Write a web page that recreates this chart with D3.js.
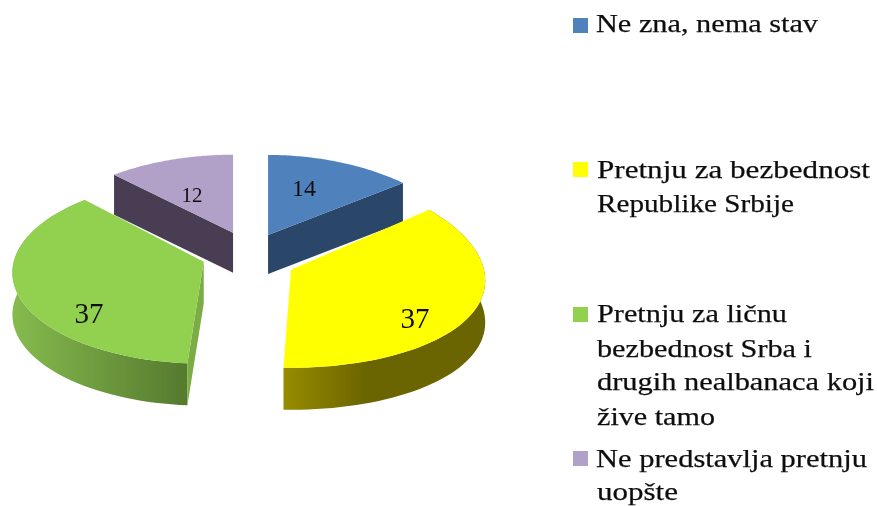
<!DOCTYPE html>
<html><head><meta charset="utf-8">
<script src="https://cdnjs.cloudflare.com/ajax/libs/d3/7.8.5/d3.min.js"></script>
<style>html,body{margin:0;padding:0;background:#fff}svg{display:block}text{font-family:"Liberation Serif",serif;fill:#111}</style>
</head><body><svg id="c" width="877" height="506"></svg>
<script>
const categories=["Ne zna, nema stav","Pretnju za bezbednost Republike Srbije","Pretnju za ličnu bezbednost Srba i drugih nealbanaca koji žive tamo","Ne predstavlja pretnju uopšte"];
const values=[14,37,37,12];
const legendLines=[["Ne zna, nema stav"],["Pretnju za bezbednost","Republike Srbije"],["Pretnju za ličnu","bezbednost Srba i","drugih nealbanaca koji","žive tamo"],["Ne predstavlja pretnju","uopšte"]];
const topColors=["#4f81bd","#ffff00","#92d050","#b1a0c7"];
const radialSide=["#2a4669",null,"#7cad45","#483e52"];
const arcGrad=[null,[[283,"#978c00"],[365,"#6b6500"],[484,"#6b6500"]],[[12,"#86bb4e"],[187,"#557a2e"]],null];
// per-slice drawing geometry (perspective of the original 3-D pie)
const sliceGeom=[
  {nx:-1.5,ny:.5,rx:192,kx:.139,ry:84.4,ky:.052,depth:39,trimS:0,trimE:0},
  {nx:0,ny:0,rx:193,kx:.114,ry:95.6,ky:.025,depth:42,trimS:0,trimE:.028},
  {nx:-3,ny:-5,rx:190,kx:.12,ry:92,ky:.107,depth:42,trimS:.014,trimE:0},
  {nx:0,ny:-1,rx:192,kx:.13,ry:84,ky:.07,depth:40,trimS:0,trimE:0}
];
const labelLayout=[[304,196,24],[415,328,29],[89,323,29],[192,202,21]];
const legendLayout=[
  {sw:18,x:[596],right:[818],base:[32]},
  {sw:162,x:[597,597],right:[870,794],base:[178,212]},
  {sw:307,x:[597,597,597,597],right:[787,812,874,715],base:[322,357,390,425]},
  {sw:451,x:[596,597],right:[867,678],base:[467,500]}
];

const cx=250,cy=258,ex=46,ey=26;
const svg=d3.select("#c");
const defs=svg.append("defs");
defs.append("filter").attr("id","soft").append("feGaussianBlur").attr("stdDeviation",.45);
const root=svg.append("g").attr("filter","url(#soft)");
const arcs=d3.pie().sort(null)(values);
const line=d3.line();
const slices=arcs.map((d,i)=>{
  const g=sliceGeom[i];
  const mid=(d.startAngle+d.endAngle)/2;
  const apex=[cx+ex*Math.sin(mid)+g.nx,cy-ey*Math.cos(mid)+g.ny];
  const ang=d3.scaleLinear().domain([0,60]).range([d.startAngle+g.trimS,d.endAngle-g.trimE]);
  const arcPts=d3.range(0,61).map(j=>{
    const a=ang(j),p=Math.sin(a),q=-Math.cos(a);
    return [apex[0]+p*g.rx*(1+g.kx*q),apex[1]+q*g.ry*(1+g.ky*q)];
  });
  return {i,apex,arcPts,depth:g.depth};
});
arcGrad.forEach((g,i)=>{
  if(!g)return;
  const x=d3.scaleLinear().domain([g[0][0],g[g.length-1][0]]).range([0,100]);
  const lg=defs.append("linearGradient").attr("id","g"+i).attr("gradientUnits","userSpaceOnUse")
    .attr("x1",g[0][0]).attr("x2",g[g.length-1][0]).attr("y1",0).attr("y2",0);
  g.forEach(s=>lg.append("stop").attr("offset",x(s[0])+"%").attr("stop-color",s[1]));
});
[3,0,2,1].forEach(i=>{
  const s=slices[i],g=root.append("g");
  const down=p=>[p[0],p[1]+s.depth];
  if(arcGrad[i]){
    g.append("path").attr("d",line(s.arcPts.concat(s.arcPts.map(down).reverse()))+"Z").attr("fill",`url(#g${i})`);
  }
  if(radialSide[i]){
    const e=i===0?s.arcPts[60]:s.arcPts[0];
    g.append("path").attr("d",line([s.apex,e,down(e),down(s.apex)])+"Z").attr("fill",radialSide[i]);
  }
  g.append("path").attr("d",line([s.apex].concat(s.arcPts))+"Z").attr("fill",topColors[i]);
});
values.forEach((v,i)=>{
  const l=labelLayout[i];
  root.append("text").attr("x",l[0]).attr("y",l[1]).attr("text-anchor","middle").attr("font-size",l[2]).text(v);
});
legendLines.forEach((lines,i)=>{
  const L=legendLayout[i];
  root.append("rect").attr("x",573).attr("y",L.sw).attr("width",15).attr("height",15).attr("fill",topColors[i]);
  lines.forEach((t,j)=>{
    root.append("text").attr("x",L.x[j]).attr("y",L.base[j]).attr("font-size",26)
      .attr("textLength",L.right[j]-L.x[j]).attr("lengthAdjust","spacingAndGlyphs")
      .attr("stroke","#111").attr("stroke-width",.25).text(t);
  });
});
</script></body></html>
